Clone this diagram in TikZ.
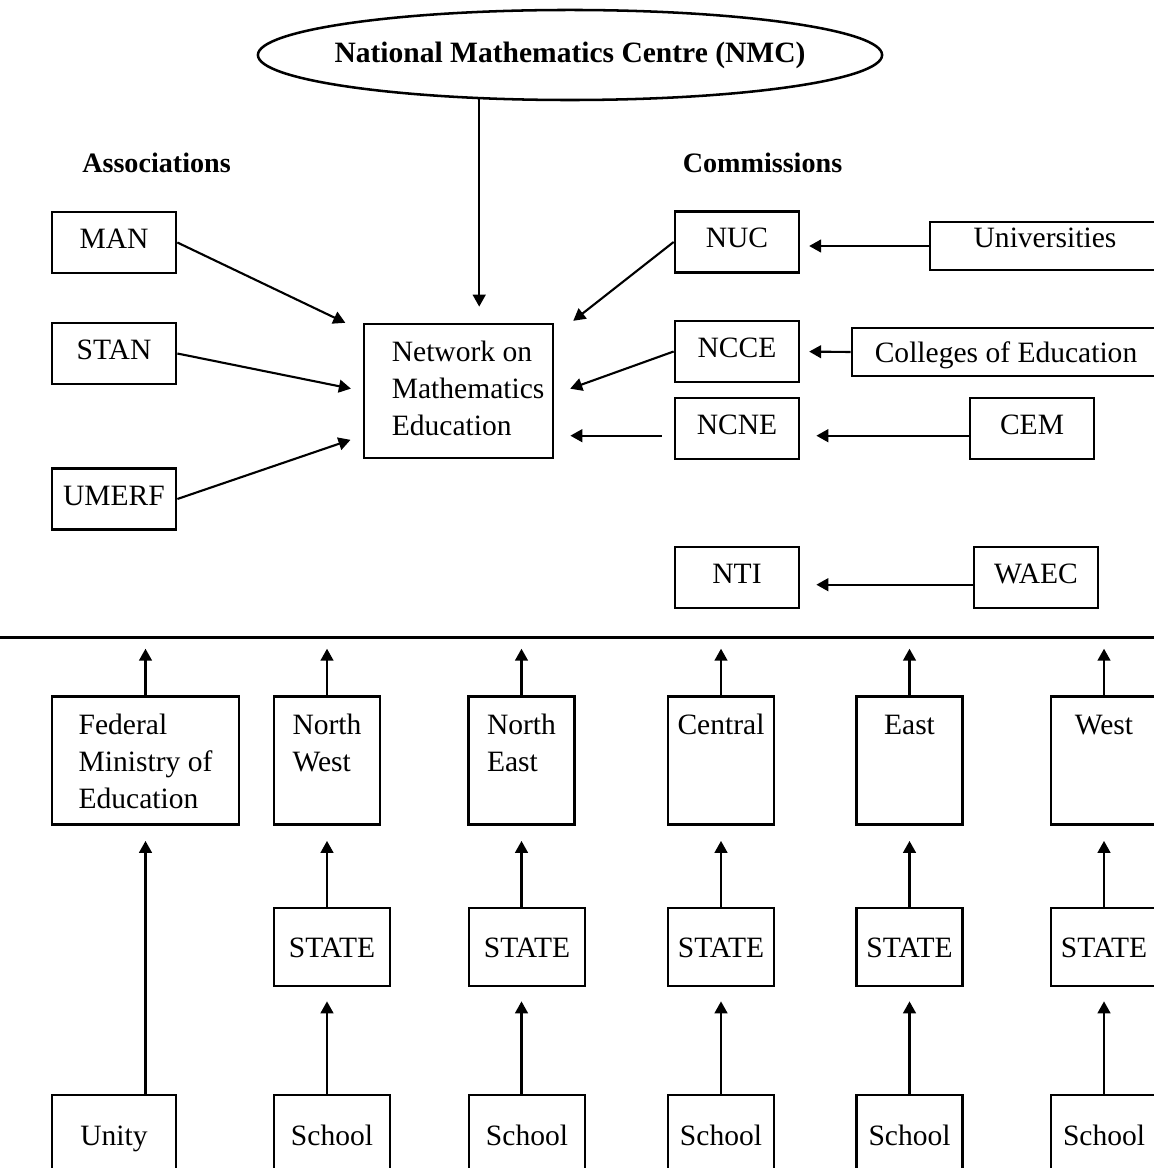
\documentclass[tikz,border=0pt]{standalone}
\usepackage{fontspec}
\setmainfont{Liberation Serif}
\usetikzlibrary{shapes.geometric,arrows.meta}

% left-aligned lines; [t] puts the first line on top
\newcommand{\boxlines}[2][c]{\begin{tabular}[#1]{@{}l@{}}#2\end{tabular}}

\tikzset{
  frame/.style={draw, line width=0.95pt, inner sep=0pt},
  box/.style={frame, text height=0.25cm, text depth=0pt},
  abox/.style={box, minimum width=1.55cm, minimum height=0.7625cm, text depth=0.1cm},
  regbox/.style={frame, anchor=north, minimum width=1.325cm, minimum height=1.6cm,
    inner xsep=0.1cm, inner ysep=0.23cm, text height=0.25cm, text depth=0.89cm},
  head/.style={font=\bfseries},
  arr/.style={-{Triangle[length=1.5mm,width=1.6mm]}, line width=0.75pt},
}

\begin{document}
\begin{tikzpicture}[x=0.0125cm, y=-0.0125cm, font=\fontsize{10.5}{13.1}\selectfont]
  \useasboundingbox (0,0) rectangle (1154,1168);
  \clip (0,0) rectangle (1154,1168);

  % Centre and network
  \node[ellipse, draw, line width=0.9pt, inner sep=0pt, minimum width=7.8cm, minimum height=1.125cm]
    (nmc) at (570,55) {\makebox[0pt]{\bfseries National Mathematics Centre (NMC)}};
  \node[frame, minimum width=2.3625cm, minimum height=1.675cm] (net) at (458.5,391)
    {\hspace{0.24cm}\boxlines{Network on\\Mathematics\\Education}};
  \draw[arr, shorten >=0.2cm] (nmc.206) -- (nmc.206 |- net.north);

  % Associations
  \node[head] (assoc) at (156.5,163) {Associations};
  \node[abox] (man) at (114,242.5) {MAN};
  \node[abox] (stan) at (114,353.5) {STAN};
  \node[abox] (umerf) at (114,499) {UMERF};
  \draw[arr, shorten >=0.24cm] (man.east) -- (net.148);
  \draw[arr, shorten >=0.15cm] (stan.east) -- (net.west);
  \draw[arr, shorten >=0.16cm] (umerf.east) -- (net.205);

  % Commissions
  \node[head] (comm) at (762.5,163) {Commissions};
  \node[abox] (nuc) at (737,242) {NUC};
  \node[abox] (ncce) at (737,351.5) {NCCE\hspace{0.32cm}};
  \node[abox] (ncne) at (737,428.5) {NCNE};
  \node[abox] (nti) at (737,577.5) {NTI};
  \node[box, minimum width=2.875cm, minimum height=0.6cm, text depth=0.2cm] (univ) at (1045,246) {Universities};
  \node[box, minimum width=3.85cm, minimum height=0.6cm] (coll) at (1006,352) {Colleges of Education};
  \node[abox] (cem) at (1032,428.5) {CEM};
  \node[abox] (waec) at (1036,577.5) {WAEC};
  \draw[arr, shorten >=0.3cm] (nuc.west) -- (net.30);
  \draw[arr, shorten >=0.21cm] (ncce.west) -- (net.358);
  \draw[arr, shorten <=0.15cm, shorten >=0.2cm] (net.335 -| ncne.west) -- (net.335);
  \draw[arr, shorten >=0.11cm] (univ.west) -- (univ.west -| nuc.east);
  \draw[arr, shorten >=0.11cm] (coll.west) -- (ncce.east);
  \draw[arr, shorten >=0.2cm] ([yshift=-0.09cm]cem.west) -- ([yshift=-0.09cm]ncne.east);
  \draw[arr, shorten >=0.2cm] ([yshift=-0.09cm]waec.west) -- ([yshift=-0.09cm]nti.east);

  % Dividing line
  \coordinate (sepL) at (0,637.5);
  \coordinate (sepR) at (1154,637.5);
  \draw[line width=1.4pt] (sepL) -- (sepR);

  % Ministry and unity schools
  \node[regbox, minimum width=2.3375cm] (fme) at (145.5,695) {\boxlines[t]{Federal\\Ministry of\\Education}};
  \node[box, minimum width=1.55cm, minimum height=1cm] (unity) at (114,1135) {Unity};
  \draw[arr, shorten >=0.14cm] (fme.north) -- (fme.north |- sepL);
  \draw[arr, shorten >=0.19cm] (unity.north -| fme) -- (fme.south);

  % Zones, states and schools
  \foreach \n/\x/\txt/\sx/\sw in {nw/327/{North\\West}/332/1.45cm, ne/521.5/{North\\East}/527/1.45cm,
      ce/721/Central/721/1.325cm, ea/909.5/East/909.5/1.325cm, we/1104/West/1104/1.325cm}{
    \node[regbox] (\n) at (\x,695) {\boxlines[t]{\txt}};
    \node[box, minimum width=\sw, minimum height=0.975cm] (st\n) at (\sx,947) {STATE};
    \node[box, minimum width=\sw, minimum height=1cm] (sc\n) at (\sx,1135) {School};
    \draw[arr, shorten >=0.14cm] (\n.north) -- (\n.north |- sepL);
    \draw[arr, shorten >=0.19cm] (st\n.north -| \n) -- (\n.south);
    \draw[arr, shorten >=0.175cm] (sc\n.north -| \n) -- (st\n.south -| \n);
  }
\end{tikzpicture}
\end{document}
